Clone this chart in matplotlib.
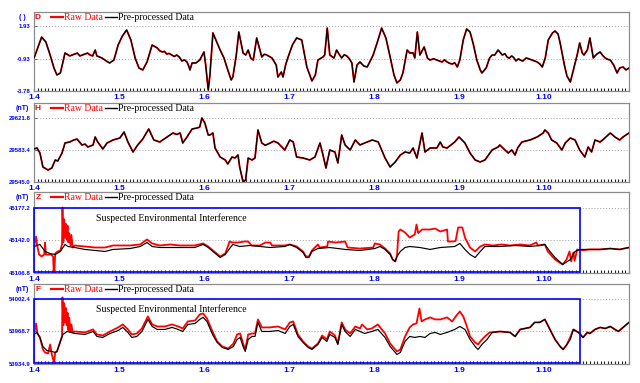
import matplotlib.pyplot as plt
from matplotlib.lines import Line2D
from matplotlib.patches import Rectangle
from matplotlib.ticker import MultipleLocator
import numpy as np

# time in days of January (4.0 = 1.4 00:00)

# D (declination, degrees)
d_pre = [(4.00, -0.88), (4.035, -0.18), (4.09, 0.96), (4.14, 0.52), (4.19, -0.62), (4.235, -1.76),
         (4.27, -2.37), (4.31, -2.20), (4.33, -1.58), (4.365, -0.44), (4.39, -0.55), (4.42, -0.70),
         (4.45, -0.62), (4.48, -0.53), (4.51, -0.45), (4.54, -0.70), (4.57, -0.62), (4.60, -0.53),
         (4.63, -0.45), (4.66, -0.62), (4.69, -0.70), (4.72, -0.18), (4.74, -0.70), (4.80, -0.88),
         (4.85, -1.14), (4.89, -1.32), (4.94, -1.06), (4.99, 0.26), (5.04, 1.05), (5.09, 1.58),
         (5.14, 0.70), (5.19, -0.88), (5.235, -1.76), (5.28, -1.93), (5.33, -1.23), (5.39, 0.26),
         (5.45, 0.00), (5.48, -0.25), (5.51, -0.35), (5.535, -0.30), (5.56, -0.53), (5.59, -0.48),
         (5.62, -0.62), (5.65, -0.75), (5.68, -0.62), (5.71, -0.80), (5.74, -1.14), (5.77, -1.05),
         (5.80, -1.23), (5.82, -1.58), (5.835, -1.93), (5.86, -1.32), (5.905, -1.32), (5.95, -1.06),
         (6.00, -0.35), (6.02, -1.50), (6.05, -3.69), (6.07, -2.37), (6.105, 1.32), (6.14, 0.70),
         (6.19, -0.18), (6.235, -0.88), (6.28, -1.93), (6.32, -2.81), (6.34, -2.55), (6.38, -0.62),
         (6.41, 1.40), (6.46, -0.44), (6.49, -0.62), (6.52, -0.18), (6.55, -0.88), (6.58, -1.06),
         (6.62, 0.88), (6.68, -0.79), (6.71, -0.55), (6.74, -0.62), (6.77, -0.75), (6.80, -0.88),
         (6.85, -1.50), (6.87, -2.55), (6.91, -2.11), (6.93, -2.55), (6.96, -1.50), (6.99, -0.79),
         (7.04, 0.26), (7.09, 0.88), (7.15, 0.70), (7.21, -1.67), (7.27, -2.90), (7.31, -2.37),
         (7.34, -1.06), (7.40, -0.79), (7.42, -0.62), (7.45, 1.75), (7.48, -0.62), (7.53, -0.88),
         (7.56, -0.18), (7.59, -0.55), (7.62, -0.88), (7.65, -0.60), (7.68, -0.70), (7.71, -0.95),
         (7.74, -1.32), (7.765, -2.99), (7.80, -1.50), (7.835, -1.23), (7.88, -1.58), (7.92, -1.67),
         (7.95, -1.23), (7.99, -0.62), (8.04, 0.52), (8.09, 1.75), (8.14, 0.88), (8.19, -0.79),
         (8.235, -2.37), (8.27, -3.07), (8.31, -2.81), (8.34, -2.20), (8.39, -0.18), (8.42, -0.44),
         (8.46, -0.44), (8.48, -0.88), (8.51, 1.40), (8.54, -0.62), (8.59, 0.09), (8.63, -0.90),
         (8.66, -1.06), (8.70, -0.95), (8.74, -1.06), (8.77, -1.15), (8.80, -1.23), (8.83, -1.05),
         (8.86, -1.23), (8.89, -1.35), (8.92, -1.41), (8.95, -1.30), (8.98, -1.67), (9.01, -1.06),
         (9.05, 0.70), (9.09, 1.67), (9.13, 1.40), (9.165, 0.44), (9.21, -1.06), (9.25, -1.93),
         (9.27, -2.20), (9.32, -1.76), (9.36, -0.88), (9.39, -0.62), (9.42, -0.62), (9.46, -0.18),
         (9.49, -0.45), (9.51, -0.62), (9.54, -0.50), (9.565, -0.79), (9.59, -0.90), (9.62, -0.70),
         (9.645, -0.85), (9.67, -1.14), (9.70, -0.95), (9.72, -1.06), (9.75, -1.15), (9.79, -0.88),
         (9.82, -0.95), (9.86, -1.06), (9.89, -1.15), (9.92, -1.23), (9.95, -1.40), (9.98, -1.67),
         (10.015, -0.88), (10.05, 0.70), (10.10, 1.32), (10.13, 1.49), (10.165, 1.23), (10.19, 0.44),
         (10.24, -1.50), (10.27, -2.46), (10.31, -2.99), (10.34, -2.11), (10.39, -0.62), (10.42, 0.44),
         (10.45, -0.44), (10.47, -0.62), (10.51, -0.18), (10.54, 0.88), (10.58, -0.88), (10.61, -0.62),
         (10.63, -0.50), (10.66, -0.35), (10.69, -0.65), (10.72, -0.88), (10.75, -1.00), (10.78, -1.06),
         (10.82, -1.50), (10.86, -2.20), (10.89, -1.76), (10.93, -1.67), (10.965, -1.93), (11.00, -1.76)]
d_raw = d_pre

# H (nT)
h_pre = [(4.00, 29584.6), (4.035, 29585.8), (4.07, 29579.8), (4.105, 29563.0), (4.165, 29559.4),
         (4.21, 29561.8), (4.25, 29571.4), (4.28, 29570.2), (4.33, 29579.8), (4.365, 29591.8),
         (4.42, 29593.0), (4.46, 29595.0), (4.505, 29596.6), (4.565, 29589.4), (4.60, 29590.5),
         (4.635, 29587.0), (4.695, 29589.4), (4.72, 29599.0), (4.75, 29593.0), (4.81, 29584.6),
         (4.86, 29591.8), (4.93, 29595.4), (5.01, 29597.8), (5.06, 29605.0), (5.105, 29593.0),
         (5.165, 29581.0), (5.22, 29589.4), (5.28, 29596.6), (5.35, 29608.6), (5.41, 29595.4),
         (5.48, 29593.0), (5.565, 29599.0), (5.635, 29603.8), (5.68, 29602.0), (5.72, 29603.8),
         (5.75, 29591.8), (5.80, 29599.0), (5.86, 29608.6), (5.92, 29609.8), (5.95, 29611.0),
         (5.975, 29621.8), (6.01, 29615.8), (6.05, 29601.4), (6.07, 29601.4), (6.105, 29603.8),
         (6.13, 29585.8), (6.19, 29575.0), (6.25, 29571.4), (6.28, 29566.6), (6.33, 29575.0),
         (6.365, 29573.8), (6.40, 29577.4), (6.42, 29563.0), (6.45, 29549.8), (6.46, 29545.0),
         (6.49, 29547.4), (6.52, 29573.8), (6.565, 29571.4), (6.60, 29573.8), (6.635, 29607.4),
         (6.68, 29591.8), (6.72, 29589.0), (6.78, 29591.8), (6.82, 29594.0), (6.87, 29591.8),
         (6.95, 29583.4), (7.01, 29595.4), (7.05, 29593.0), (7.09, 29575.0), (7.165, 29573.8),
         (7.245, 29571.4), (7.305, 29575.0), (7.365, 29591.8), (7.40, 29577.4), (7.435, 29561.8),
         (7.48, 29583.4), (7.54, 29581.0), (7.575, 29567.8), (7.62, 29601.4), (7.66, 29589.4),
         (7.72, 29583.4), (7.78, 29595.4), (7.835, 29589.4), (7.89, 29591.8), (7.98, 29595.4),
         (8.05, 29593.0), (8.13, 29573.8), (8.19, 29563.0), (8.25, 29569.0), (8.31, 29577.4),
         (8.365, 29581.0), (8.42, 29579.8), (8.46, 29585.8), (8.505, 29573.8), (8.565, 29603.8),
         (8.60, 29581.0), (8.66, 29585.8), (8.74, 29585.8), (8.78, 29593.0), (8.81, 29587.0),
         (8.86, 29585.8), (8.95, 29593.0), (9.00, 29599.0), (9.07, 29591.8), (9.13, 29579.8),
         (9.19, 29571.4), (9.25, 29569.0), (9.305, 29571.4), (9.39, 29583.4), (9.46, 29587.0),
         (9.48, 29589.4), (9.54, 29583.4), (9.58, 29579.8), (9.62, 29583.4), (9.66, 29577.4),
         (9.69, 29585.8), (9.74, 29593.0), (9.835, 29595.4), (9.92, 29599.0), (9.99, 29603.8),
         (10.01, 29607.4), (10.05, 29603.8), (10.09, 29595.4), (10.15, 29591.8), (10.21, 29583.4),
         (10.25, 29591.8), (10.31, 29597.8), (10.365, 29595.4), (10.42, 29583.4), (10.48, 29575.0),
         (10.52, 29587.0), (10.56, 29581.0), (10.60, 29595.4), (10.66, 29593.0), (10.69, 29595.4),
         (10.78, 29603.8), (10.835, 29599.0), (10.89, 29595.4), (10.93, 29599.0), (11.00, 29603.8)]
h_raw = h_pre

# Z (nT)
z_pre = [(4.00, 45135.5), (4.07, 45137.7), (4.13, 45130.1), (4.19, 45127.9), (4.25, 45126.8),
         (4.31, 45130.1), (4.365, 45137.7), (4.40, 45135.5), (4.48, 45134.4), (4.60, 45132.3),
         (4.72, 45131.2), (4.835, 45130.1), (4.93, 45132.3), (5.13, 45133.3), (5.25, 45135.5),
         (5.33, 45139.8), (5.39, 45135.5), (5.48, 45134.4), (5.72, 45134.4), (5.89, 45134.4),
         (5.99, 45137.7), (6.05, 45134.4), (6.105, 45130.1), (6.19, 45123.6), (6.25, 45126.8),
         (6.31, 45134.4), (6.34, 45137.7), (6.42, 45135.5), (6.54, 45136.6), (6.66, 45135.5),
         (6.78, 45134.4), (6.95, 45135.5), (7.01, 45137.7), (7.09, 45134.4), (7.165, 45129.0),
         (7.20, 45123.6), (7.235, 45123.6), (7.27, 45130.1), (7.34, 45133.3), (7.48, 45134.4),
         (7.66, 45132.3), (7.835, 45131.2), (8.01, 45133.3), (8.07, 45135.5), (8.13, 45132.3),
         (8.19, 45126.8), (8.22, 45121.4), (8.25, 45119.3), (8.27, 45124.7), (8.31, 45130.1),
         (8.365, 45134.4), (8.42, 45135.5), (8.54, 45134.4), (8.66, 45132.3), (8.78, 45134.4),
         (8.95, 45135.5), (9.01, 45138.8), (9.07, 45132.3), (9.13, 45126.8), (9.19, 45123.6),
         (9.25, 45130.1), (9.305, 45135.5), (9.48, 45135.5), (9.66, 45136.6), (9.835, 45135.5),
         (9.95, 45136.6), (10.01, 45137.7), (10.07, 45130.1), (10.13, 45123.6), (10.22, 45116.0),
         (10.31, 45121.4), (10.365, 45130.1), (10.42, 45132.3), (10.54, 45132.3), (10.66, 45132.3),
         (10.78, 45133.3), (10.89, 45132.3), (11.00, 45134.4)]
z_raw = [(4.00, 45135.5), (4.025, 45146.3), (4.035, 45137.7), (4.06, 45126.8), (4.09, 45124.7),
         (4.12, 45126.8), (4.13, 45139.8), (4.14, 45126.8), (4.20, 45126.8), (4.225, 45124.7),
         (4.235, 45100.0), (4.25, 45128.0), (4.28, 45130.1), (4.31, 45131.2), (4.33, 45137.7),
         (4.335, 45177.7), (4.345, 45140.0), (4.355, 45165.0), (4.365, 45145.0), (4.375, 45160.0),
         (4.385, 45143.0), (4.395, 45158.0), (4.405, 45140.0), (4.415, 45150.0), (4.43, 45136.6),
         (4.44, 45148.0), (4.455, 45134.4), (4.48, 45136.6), (4.60, 45135.5), (4.72, 45134.4),
         (4.835, 45134.4), (4.93, 45136.6), (5.13, 45136.6), (5.25, 45137.7), (5.33, 45143.1),
         (5.39, 45138.8), (5.48, 45136.6), (5.60, 45137.7), (5.72, 45136.6), (5.89, 45136.6),
         (5.99, 45138.8), (6.05, 45135.5), (6.105, 45131.2), (6.19, 45124.7), (6.25, 45127.9),
         (6.285, 45136.6), (6.30, 45140.9), (6.34, 45139.8), (6.40, 45139.8), (6.48, 45140.9),
         (6.52, 45140.9), (6.56, 45136.6), (6.66, 45136.6), (6.72, 45139.8), (6.78, 45139.8),
         (6.80, 45136.6), (6.95, 45136.6), (7.01, 45137.7), (7.09, 45135.5), (7.165, 45130.1),
         (7.20, 45124.7), (7.235, 45124.7), (7.27, 45131.2), (7.34, 45137.7), (7.36, 45134.4),
         (7.45, 45135.5), (7.46, 45140.9), (7.55, 45139.8), (7.66, 45140.9), (7.69, 45134.4),
         (7.835, 45133.3), (7.99, 45134.4), (8.01, 45138.8), (8.07, 45137.7), (8.13, 45133.3),
         (8.19, 45127.9), (8.22, 45121.4), (8.25, 45119.3), (8.27, 45125.0), (8.29, 45151.7),
         (8.31, 45153.9), (8.365, 45150.7), (8.42, 45145.2), (8.48, 45148.5), (8.50, 45159.3),
         (8.52, 45150.0), (8.565, 45153.9), (8.66, 45153.9), (8.72, 45155.0), (8.78, 45151.7),
         (8.86, 45153.9), (8.87, 45140.9), (8.93, 45140.9), (8.96, 45141.5), (8.99, 45156.1),
         (9.04, 45156.1), (9.07, 45145.2), (9.13, 45134.4), (9.19, 45130.1), (9.25, 45135.5),
         (9.305, 45137.7), (9.40, 45136.6), (9.50, 45137.7), (9.60, 45136.6), (9.72, 45137.7),
         (9.83, 45136.6), (9.91, 45139.8), (9.93, 45136.6), (10.01, 45137.7), (10.045, 45130.1),
         (10.13, 45121.4), (10.22, 45116.0), (10.265, 45121.4), (10.30, 45130.1), (10.32, 45119.3),
         (10.345, 45129.0), (10.36, 45120.0), (10.39, 45132.3), (10.42, 45131.2), (10.54, 45132.3),
         (10.66, 45132.3), (10.78, 45133.3), (10.89, 45132.3), (11.00, 45134.4)]

# F (nT)
f_pre = [(4.00, 53965.6), (4.035, 53967.7), (4.07, 53962.5), (4.105, 53953.1), (4.15, 53949.0),
         (4.21, 53947.9), (4.25, 53946.9), (4.27, 53947.9), (4.31, 53958.3), (4.34, 53965.6),
         (4.39, 53968.7), (4.48, 53966.6), (4.60, 53965.6), (4.695, 53968.7), (4.74, 53963.5),
         (4.81, 53962.5), (4.895, 53966.6), (4.99, 53969.7), (5.045, 53972.9), (5.105, 53967.7),
         (5.15, 53962.5), (5.21, 53963.5), (5.27, 53968.7), (5.34, 53981.2), (5.39, 53973.9),
         (5.45, 53970.8), (5.54, 53970.8), (5.625, 53972.9), (5.695, 53970.8), (5.75, 53968.7),
         (5.81, 53976.0), (5.895, 53977.0), (5.95, 53981.2), (5.99, 53983.3), (6.035, 53979.1),
         (6.10, 53965.6), (6.155, 53957.3), (6.215, 53952.1), (6.285, 53950.0), (6.345, 53953.1),
         (6.39, 53960.4), (6.425, 53962.5), (6.46, 53953.1), (6.485, 53947.9), (6.52, 53960.4),
         (6.565, 53963.5), (6.60, 53963.5), (6.635, 53978.1), (6.68, 53968.7), (6.775, 53968.7),
         (6.87, 53969.7), (6.955, 53966.6), (7.01, 53973.9), (7.05, 53976.0), (7.105, 53963.5),
         (7.165, 53957.3), (7.225, 53952.1), (7.27, 53950.0), (7.34, 53955.2), (7.39, 53962.5),
         (7.445, 53958.3), (7.48, 53965.6), (7.54, 53962.5), (7.575, 53955.2), (7.62, 53976.0),
         (7.66, 53968.7), (7.72, 53963.5), (7.78, 53970.8), (7.835, 53968.7), (7.89, 53966.6),
         (7.975, 53968.7), (8.045, 53970.8), (8.13, 53962.5), (8.19, 53953.1), (8.25, 53946.9),
         (8.27, 53944.8), (8.31, 53946.9), (8.365, 53958.3), (8.42, 53963.5), (8.48, 53962.5),
         (8.54, 53963.5), (8.60, 53962.5), (8.66, 53966.6), (8.72, 53967.7), (8.78, 53965.6),
         (8.86, 53967.7), (8.95, 53970.8), (9.01, 53973.9), (9.07, 53970.8), (9.13, 53960.4),
         (9.19, 53953.1), (9.225, 53950.0), (9.27, 53955.2), (9.33, 53960.4), (9.39, 53967.7),
         (9.48, 53968.7), (9.60, 53967.7), (9.66, 53963.5), (9.72, 53970.8), (9.835, 53972.9),
         (9.89, 53978.1), (9.95, 53978.1), (10.01, 53981.2), (10.07, 53970.8), (10.13, 53960.4),
         (10.19, 53953.1), (10.225, 53950.0), (10.27, 53955.2), (10.31, 53960.4), (10.345, 53970.8),
         (10.405, 53967.7), (10.46, 53962.5), (10.51, 53967.7), (10.54, 53966.6), (10.60, 53970.8),
         (10.66, 53972.9), (10.72, 53971.8), (10.78, 53973.9), (10.835, 53970.8), (10.875, 53968.7),
         (10.93, 53972.9), (11.00, 53978.1)]
f_raw = [(4.00, 53965.6), (4.025, 53977.0), (4.04, 53966.6), (4.07, 53962.5), (4.105, 53950.0),
         (4.13, 53946.9), (4.165, 53945.8), (4.19, 53955.2), (4.21, 53944.8), (4.235, 53936.5),
         (4.25, 53946.9), (4.27, 53947.9), (4.31, 53958.3), (4.33, 53964.0), (4.335, 54004.1),
         (4.345, 53975.0), (4.355, 53998.0), (4.365, 53978.0), (4.375, 53993.0), (4.385, 53975.0),
         (4.395, 53988.0), (4.405, 53970.0), (4.415, 53983.0), (4.43, 53968.0), (4.44, 53976.0),
         (4.455, 53967.7), (4.48, 53968.7), (4.60, 53967.7), (4.695, 53970.8), (4.74, 53965.6),
         (4.81, 53964.5), (4.895, 53968.7), (4.99, 53972.9), (5.045, 53976.0), (5.105, 53970.8),
         (5.15, 53965.6), (5.21, 53966.6), (5.27, 53971.8), (5.34, 53984.3), (5.39, 53976.0),
         (5.45, 53973.9), (5.54, 53973.9), (5.625, 53976.0), (5.695, 53973.9), (5.75, 53971.8),
         (5.81, 53979.1), (5.895, 53980.1), (5.95, 53986.4), (5.99, 53987.4), (6.035, 53982.2),
         (6.10, 53968.7), (6.155, 53958.3), (6.215, 53953.1), (6.285, 53951.0), (6.345, 53956.0),
         (6.39, 53965.6), (6.425, 53966.6), (6.46, 53956.2), (6.485, 53950.0), (6.52, 53965.6),
         (6.565, 53966.6), (6.60, 53966.6), (6.635, 53981.2), (6.68, 53972.9), (6.775, 53972.9),
         (6.87, 53973.9), (6.955, 53970.8), (7.01, 53978.1), (7.05, 53979.1), (7.105, 53965.6),
         (7.165, 53958.3), (7.225, 53953.1), (7.27, 53951.0), (7.34, 53956.2), (7.39, 53964.5),
         (7.445, 53960.4), (7.48, 53968.7), (7.54, 53964.5), (7.575, 53956.2), (7.62, 53978.1),
         (7.66, 53970.8), (7.72, 53966.6), (7.78, 53973.9), (7.835, 53971.8), (7.86, 53976.0),
         (7.92, 53970.8), (7.975, 53971.8), (8.045, 53976.0), (8.13, 53966.6), (8.19, 53956.2),
         (8.25, 53950.0), (8.27, 53947.9), (8.31, 53950.0), (8.365, 53963.5), (8.42, 53972.9),
         (8.46, 53976.0), (8.50, 53977.0), (8.535, 53992.6), (8.56, 53979.1), (8.60, 53981.2),
         (8.66, 53983.3), (8.72, 53981.2), (8.78, 53981.2), (8.86, 53983.3), (8.92, 53979.1),
         (8.98, 53986.4), (9.01, 53989.5), (9.05, 53984.3), (9.085, 53976.0), (9.13, 53963.5),
         (9.19, 53957.3), (9.225, 53955.2), (9.25, 53958.3), (9.305, 53963.5), (9.36, 53967.7),
         (9.39, 53967.7), (9.48, 53968.7), (9.60, 53967.7), (9.66, 53963.5), (9.72, 53970.8),
         (9.835, 53972.9), (9.89, 53978.1), (9.95, 53978.1), (10.01, 53981.2), (10.07, 53970.8),
         (10.13, 53960.4), (10.19, 53953.1), (10.225, 53950.0), (10.27, 53955.2), (10.31, 53963.0),
         (10.345, 53970.8), (10.405, 53967.7), (10.46, 53962.5), (10.51, 53967.7), (10.54, 53966.6),
         (10.60, 53970.8), (10.66, 53972.9), (10.72, 53971.8), (10.78, 53973.9), (10.835, 53970.8),
         (10.875, 53968.7), (10.93, 53972.9), (11.00, 53978.1)]

# y tick values (bottom, middle, top) per panel
d_ticks = [-3.78, -0.93, 1.93]
h_ticks = [29545.0, 29583.4, 29621.8]
z_ticks = [45106.8, 45142.0, 45177.2]
f_ticks = [53934.9, 53968.7, 54002.4]

day_ticks = [4, 5, 6, 7, 8, 9, 10]
day_labels = ['1.4', '1.5', '1.6', '1.7', '1.8', '1.9', '1.10']
box_end = 10.42  # end of the suspected interference window

BLUE = '#0000ff'
SERIF = ['Liberation Serif', 'DejaVu Serif']
SANS = ['Liberation Sans', 'DejaVu Sans']

fig = plt.figure(figsize=(6.4, 3.83), dpi=100)

panels = [
    ('D', '( )', d_pre, d_raw, d_ticks, '%.2f', [0.0531, 0.7624, 0.9297, 0.2063], 3.16, False),
    ('H', '(nT)', h_pre, h_raw, h_ticks, '%.1f', [0.0531, 0.5248, 0.9297, 0.2063], 29639.8, False),
    ('Z', '(nT)', z_pre, z_raw, z_ticks, '%.1f', [0.0531, 0.2872, 0.9297, 0.2115], 45194.5, True),
    ('F', '(nT)', f_pre, f_raw, f_ticks, '%.1f', [0.0531, 0.0496, 0.9297, 0.2089], 54018.0, True),
]

for name, unit, pre, raw, ticks, fmt, rect, ytop, box in panels:
    ax = fig.add_axes(rect)
    rt, rv = np.array(raw).T
    pt, pv = np.array(pre).T
    ax.plot(rt, rv, color='red', lw=1.3, zorder=2)
    ax.plot(pt, pv, color='black', lw=0.85, zorder=3)

    ax.set_xlim(4, 11)
    ax.set_ylim(ticks[0], ytop)

    ax.set_xticks(day_ticks)
    ax.set_xticklabels(day_labels, fontsize=6, fontweight='bold', color=BLUE, family=SANS)
    ax.xaxis.set_minor_locator(MultipleLocator(1 / 24))
    ax.tick_params(axis='x', which='both', direction='in', length=2.2, width=0.8,
                   color='#222222', pad=2)

    ax.set_yticks(ticks)
    ax.set_yticklabels([fmt % v for v in ticks], fontsize=4.3, fontweight='bold',
                       color=BLUE, family=SANS)
    ax.tick_params(axis='y', direction='in', length=2, width=0.6, color='#555555', pad=2.5)
    ax.yaxis.grid(True, linestyle=(0, (1, 2)), color='#a0a0a0', lw=0.7)

    for sp in ax.spines.values():
        sp.set_color('#8c8c8c')
        sp.set_linewidth(0.9)

    top_frac = 1 - 6.0 / (rect[3] * 383)
    ax.text(0.0067, top_frac, name, transform=ax.transAxes, color='red', fontsize=6,
            fontweight='bold', family=SANS, ha='center', va='center')
    ax.text(-0.02, top_frac + 0.01, unit, transform=ax.transAxes, color=BLUE, fontsize=5,
            fontweight='bold', family=SANS, ha='center', va='center')

    handles = [Line2D([], [], color='red', lw=1.6), Line2D([], [], color='black', lw=1.0)]
    leg = ax.legend(handles, ['Raw Data', 'Pre-processed Data'], loc='center left',
                    bbox_to_anchor=(0.029, top_frac), ncol=2, frameon=False,
                    handlelength=1.2, handletextpad=0.12, columnspacing=0.25,
                    borderpad=0, borderaxespad=0, prop={'family': SERIF, 'size': 7})
    leg.get_texts()[0].set_color('red')

    if box:
        ax.add_patch(Rectangle((4.0, ticks[2]), box_end - 4.0, ticks[0] - ticks[2] + 1.3,
                               fill=False, ec=BLUE, lw=1.2, zorder=5, clip_on=False))
        ax.text(0.105, ax.transAxes.inverted().transform(
                    ax.transData.transform((4.0, ticks[2])))[1] - 0.13,
                'Suspected Environmental Interference', transform=ax.transAxes,
                fontsize=7, family=SERIF, ha='left', va='center')

fig.savefig('out.png', dpi=100)
